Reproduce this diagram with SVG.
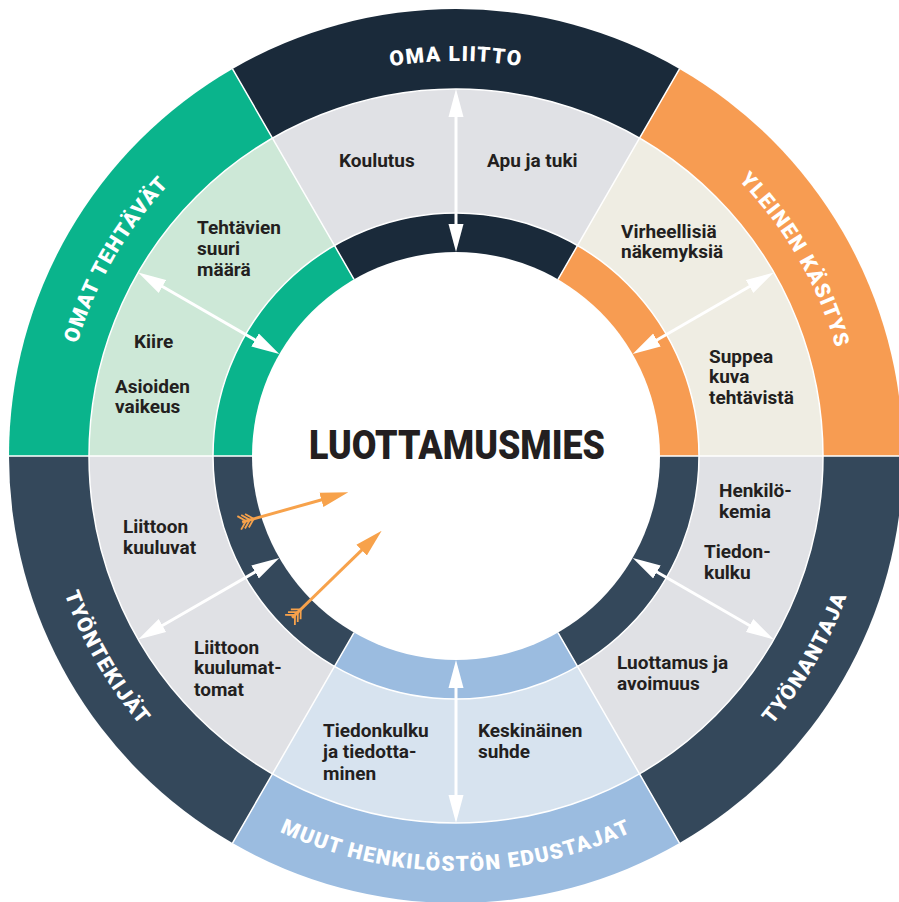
<svg xmlns="http://www.w3.org/2000/svg" width="899" height="902" viewBox="0 0 899 902">
  <style>
    .t { font-family: Roboto, "Liberation Sans", Arial, sans-serif; font-weight: 700; font-size: 19px; fill: #231f20; }
    .lbl { font-family: Roboto, "Liberation Sans", Arial, sans-serif; font-weight: 900; font-size: 21px; fill: #ffffff; letter-spacing: 1.4px; }
    .center { font-family: Roboto, "Liberation Sans", Arial, sans-serif; font-weight: 900; font-size: 41px; fill: #231f20; }
    .sep { stroke: #ffffff; stroke-width: 1.5; fill: none; }
    .wline { stroke: #ffffff; stroke-width: 3; marker-start: url(#wh); marker-end: url(#wh); }
    .oline { stroke: #f7a24b; stroke-width: 3; marker-end: url(#oh); }
    .fletch { stroke: #f7a24b; stroke-width: 1.8; fill: none; }
  </style>
  <defs>
    <marker id="wh" viewBox="0 0 28 16" refX="8" refY="8" markerWidth="28" markerHeight="16" markerUnits="userSpaceOnUse" orient="auto-start-reverse">
      <path d="M0,0.5 L28,8 L0,15.5 Z" fill="#ffffff"/>
    </marker>
    <marker id="oh" viewBox="0 0 28 16" refX="8" refY="8" markerWidth="28" markerHeight="16" markerUnits="userSpaceOnUse" orient="auto">
      <path d="M0,0.5 L28,8 L0,15.5 Z" fill="#f7a24b"/>
    </marker>
    <!-- label baselines: clockwise arcs (r=395) and counter-clockwise arcs (r=415) -->
    <path id="arc-top" d="M132.4,229.4 A395,395 0 0 1 779.6,229.4"/>
    <path id="arc-tr" d="M490.4,62.5 A395,395 0 0 1 814,622.9"/>
    <path id="arc-tl" d="M98,622.9 A395,395 0 0 1 421.6,62.5"/>
    <path id="arc-bot" d="M116,694 A415,415 0 0 0 796,694"/>
    <path id="arc-br" d="M492.2,869.4 A415,415 0 0 0 832.1,280.6"/>
    <path id="arc-bl" d="M79.9,280.6 A415,415 0 0 0 419.8,869.4"/>
    <!-- feathered tail of the orange arrows -->
    <path id="feathers" class="fletch" d="M-7,-7 L0,0 L-7,7 M-3,-7 L4,0 L-3,7 M1,-7 L8,0 L1,7"/>
  </defs>

  <!-- OMA LIITTO (top) -->
  <g id="oma-liitto">
    <path d="M456,456 L232.5,68.9 A447,447 0 0 1 679.5,68.9 Z" fill="#1a2a3a"/>
    <path d="M456,456 L272.5,138.2 A367,367 0 0 1 639.5,138.2 Z" fill="#e0e1e5"/>
    <path d="M456,456 L334.5,245.6 A243,243 0 0 1 577.5,245.6 Z" fill="#1a2a3a"/>
    <text class="lbl"><textPath href="#arc-top" startOffset="50%" text-anchor="middle">OMA LIITTO</textPath></text>
    <text class="t" x="339" y="167">Koulutus</text>
    <text class="t" x="487" y="167">Apu ja tuki</text>
  </g>

  <!-- YLEINEN KÄSITYS (top right) -->
  <g id="yleinen-kasitys">
    <path d="M456,456 L679.5,68.9 A447,447 0 0 1 903,456 Z" fill="#f79c52"/>
    <path d="M456,456 L639.5,138.2 A367,367 0 0 1 823,456 Z" fill="#efede3"/>
    <path d="M456,456 L577.5,245.6 A243,243 0 0 1 699,456 Z" fill="#f79c52"/>
    <text class="lbl"><textPath href="#arc-tr" startOffset="50%" text-anchor="middle">YLEINEN KÄSITYS</textPath></text>
    <text class="t"><tspan x="621" y="238">Virheellisiä</tspan><tspan x="621" y="258">näkemyksiä</tspan></text>
    <text class="t"><tspan x="709" y="363">Suppea</tspan><tspan x="709" y="383">kuva</tspan><tspan x="709" y="404">tehtävistä</tspan></text>
  </g>

  <!-- TYÖNANTAJA (bottom right) -->
  <g id="tyonantaja">
    <path d="M456,456 L903,456 A447,447 0 0 1 679.5,843.1 Z" fill="#34485b"/>
    <path d="M456,456 L823,456 A367,367 0 0 1 639.5,773.8 Z" fill="#e0e1e5"/>
    <path d="M456,456 L699,456 A243,243 0 0 1 577.5,666.4 Z" fill="#34485b"/>
    <text class="lbl"><textPath href="#arc-br" startOffset="50%" text-anchor="middle">TYÖNANTAJA</textPath></text>
    <text class="t"><tspan x="719" y="497">Henkilö-</tspan><tspan x="719" y="518">kemia</tspan></text>
    <text class="t"><tspan x="704" y="558">Tiedon-</tspan><tspan x="704" y="579">kulku</tspan></text>
    <text class="t"><tspan x="617" y="669">Luottamus ja</tspan><tspan x="617" y="690">avoimuus</tspan></text>
  </g>

  <!-- MUUT HENKILÖSTÖN EDUSTAJAT (bottom) -->
  <g id="muut-edustajat">
    <path d="M456,456 L679.5,843.1 A447,447 0 0 1 232.5,843.1 Z" fill="#9bbce0"/>
    <path d="M456,456 L639.5,773.8 A367,367 0 0 1 272.5,773.8 Z" fill="#d7e3ef"/>
    <path d="M456,456 L577.5,666.4 A243,243 0 0 1 334.5,666.4 Z" fill="#9bbce0"/>
    <text class="lbl"><textPath href="#arc-bot" startOffset="50%" text-anchor="middle">MUUT HENKILÖSTÖN EDUSTAJAT</textPath></text>
    <text class="t"><tspan x="478" y="737">Keskinäinen</tspan><tspan x="478" y="758">suhde</tspan></text>
    <text class="t"><tspan x="323" y="737">Tiedonkulku</tspan><tspan x="323" y="758">ja tiedotta-</tspan><tspan x="323" y="780">minen</tspan></text>
  </g>

  <!-- TYÖNTEKIJÄT (bottom left) -->
  <g id="tyontekijat">
    <path d="M456,456 L232.5,843.1 A447,447 0 0 1 9,456 Z" fill="#34485b"/>
    <path d="M456,456 L272.5,773.8 A367,367 0 0 1 89,456 Z" fill="#e0e1e5"/>
    <path d="M456,456 L334.5,666.4 A243,243 0 0 1 213,456 Z" fill="#34485b"/>
    <text class="lbl"><textPath href="#arc-bl" startOffset="50%" text-anchor="middle">TYÖNTEKIJÄT</textPath></text>
    <text class="t"><tspan x="123" y="533">Liittoon</tspan><tspan x="123" y="554">kuuluvat</tspan></text>
    <text class="t"><tspan x="194" y="654">Liittoon</tspan><tspan x="194" y="674">kuulumat-</tspan><tspan x="194" y="696">tomat</tspan></text>
  </g>

  <!-- OMAT TEHTÄVÄT (top left) -->
  <g id="omat-tehtavat">
    <path d="M456,456 L9,456 A447,447 0 0 1 232.5,68.9 Z" fill="#0ab48c"/>
    <path d="M456,456 L89,456 A367,367 0 0 1 272.5,138.2 Z" fill="#cde8d7"/>
    <path d="M456,456 L213,456 A243,243 0 0 1 334.5,245.6 Z" fill="#0ab48c"/>
    <text class="lbl"><textPath href="#arc-tl" startOffset="50%" text-anchor="middle">OMAT TEHTÄVÄT</textPath></text>
    <text class="t"><tspan x="197" y="234">Tehtävien</tspan><tspan x="197" y="255">suuri</tspan><tspan x="197" y="276">määrä</tspan></text>
    <text class="t" x="134" y="348">Kiire</text>
    <text class="t"><tspan x="115" y="393">Asioiden</tspan><tspan x="115" y="413">vaikeus</tspan></text>
  </g>

  <!-- white ring dividers -->
  <g id="dividers">
    <circle cx="456" cy="456" r="367" class="sep"/>
    <circle cx="456" cy="456" r="243" class="sep"/>
    <path class="sep" d="M660,456 L903,456 M558,632.7 L679.5,843.1 M354,632.7 L232.5,843.1 M252,456 L9,456 M354,279.3 L232.5,68.9 M558,279.3 L679.5,68.9"/>
  </g>

  <!-- centre -->
  <g id="luottamusmies">
    <circle cx="456" cy="456" r="204" fill="#ffffff"/>
    <text class="center" x="457" y="459" text-anchor="middle" textLength="296" lengthAdjust="spacingAndGlyphs">LUOTTAMUSMIES</text>
  </g>

  <!-- connectors -->
  <g id="connectors">
    <line class="wline" x1="456" y1="109" x2="456" y2="232"/>
    <line class="wline" x1="456" y1="803" x2="456" y2="680"/>
    <line class="wline" x1="155.5" y1="282.5" x2="262" y2="344"/>
    <line class="wline" x1="756.5" y1="282.5" x2="650" y2="344"/>
    <line class="wline" x1="756.5" y1="629.5" x2="650" y2="568"/>
    <line class="wline" x1="155.5" y1="629.5" x2="262" y2="568"/>

    <g transform="translate(246,521) rotate(-15.67)">
      <line class="oline" x1="-4" y1="0" x2="86.25" y2="0"/>
      <use href="#feathers"/>
    </g>
    <g transform="translate(295,615) rotate(-44.2)">
      <line class="oline" x1="-4" y1="0" x2="100.9" y2="0"/>
      <use href="#feathers"/>
    </g>
  </g>
</svg>
